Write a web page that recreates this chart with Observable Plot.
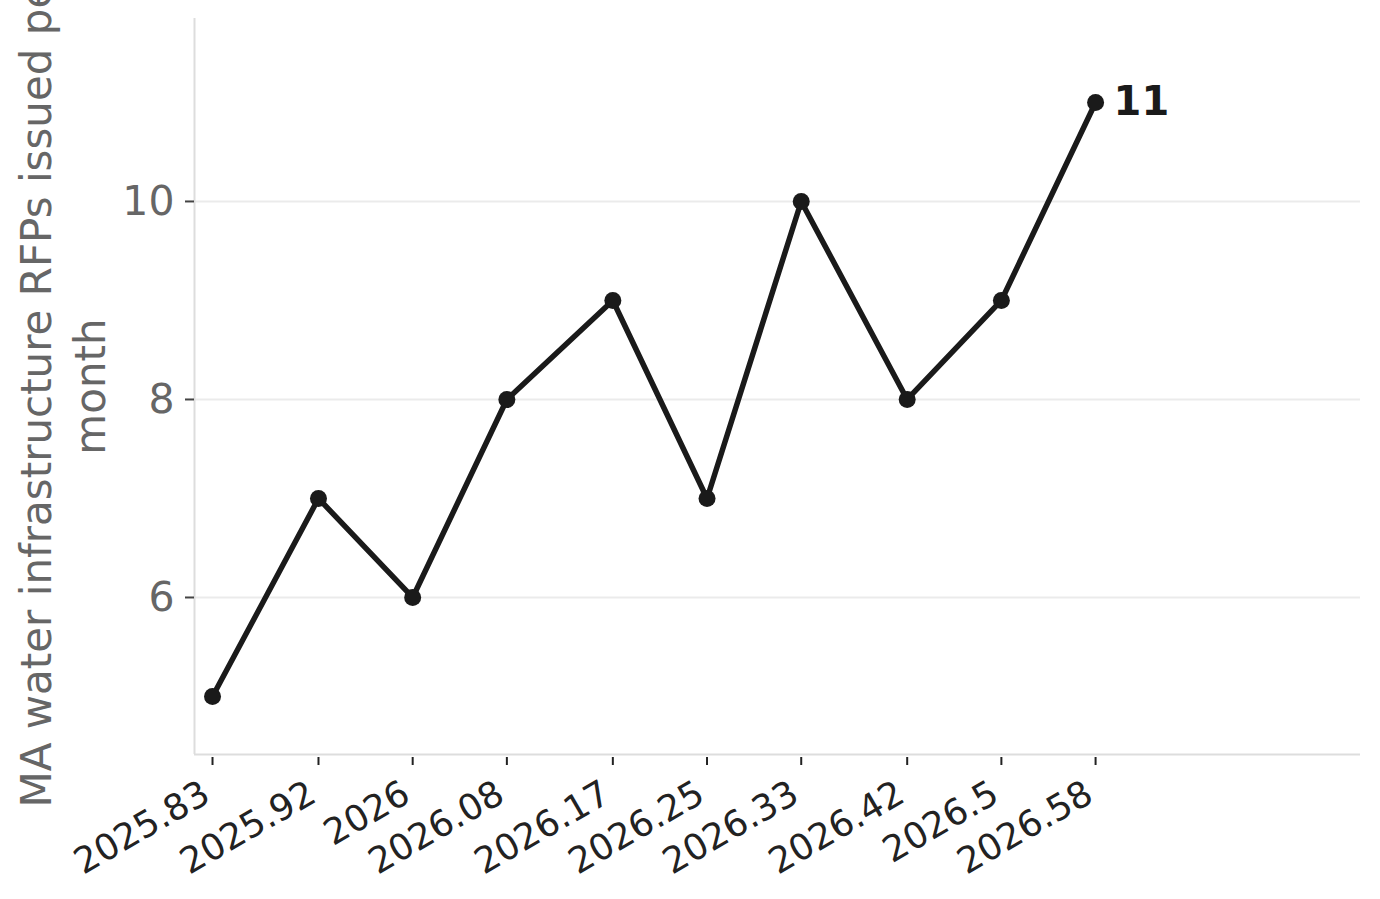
<!DOCTYPE html>
<html>
<head>
<meta charset="utf-8">
<script src="https://cdn.jsdelivr.net/npm/d3@7"></script>
<script src="https://cdn.jsdelivr.net/npm/@observablehq/plot@0.6"></script>
<style>
  html, body { margin: 0; padding: 0; background: #fff; }
  #chart svg { font-family: "DejaVu Sans", sans-serif; display: block; }
</style>
</head>
<body>
<div id="chart"></div>
<script>
const months = [2025.83, 2025.92, 2026, 2026.08, 2026.17, 2026.25, 2026.33, 2026.42, 2026.5, 2026.58];
const rfps = [5, 7, 6, 8, 9, 7, 10, 8, 9, 11];
const xTickLabels = ["2025.83", "2025.92", "2026", "2026.08", "2026.17", "2026.25", "2026.33", "2026.42", "2026.5", "2026.58"];
const yTicks = [6, 8, 10];
const yLabel = "MA water infrastructure RFPs issued per\nmonth";

const data = months.map((m, i) => ({month: m, value: rfps[i]}));
const last = data[data.length - 1];
const xDomain = [2025.8147, 2026.805];
const yDomain = [4.414, 11.848];

const chart = Plot.plot({
  width: 1380,
  height: 899,
  marginLeft: 194,
  marginRight: 20,
  marginTop: 18,
  marginBottom: 145,
  style: {fontFamily: "DejaVu Sans, sans-serif", background: "#fff"},
  x: {domain: xDomain},
  y: {domain: yDomain},
  marks: [
    Plot.gridY(yTicks, {stroke: "#ebebeb", strokeOpacity: 1, strokeWidth: 2}),
    Plot.ruleX([xDomain[0]], {stroke: "#dddddd", strokeWidth: 2}),
    Plot.ruleY([yDomain[0]], {stroke: "#dddddd", strokeWidth: 2}),
    Plot.axisY({
      ticks: yTicks,
      tickSize: 9,
      tickPadding: 11,
      fontSize: 41,
      fill: "#666666",
      stroke: "#444444",
      strokeWidth: 2,
      label: null
    }),
    // x tick marks only
    Plot.axisX({
      ticks: months,
      tickFormat: () => "",
      tickSize: 8,
      dy: 3,
      stroke: "#222222",
      strokeWidth: 2,
      label: null
    }),
    // x tick labels only
    Plot.axisX({
      ticks: months,
      tickFormat: (d) => xTickLabels[months.indexOf(d)],
      tickSize: 0,
      tickPadding: 36,
      tickRotate: -30,
      dx: -6,
      fontSize: 36,
      fill: "#222222",
      label: null
    }),
    Plot.text([yLabel], {
      frameAnchor: "left",
      rotate: -90,
      dx: -134,
      dy: 0,
      fontSize: 42,
      lineHeight: 1.3,
      fill: "#666666",
      textAnchor: "middle"
    }),
    Plot.line(data, {x: "month", y: "value", stroke: "#1a1a1a", strokeWidth: 5.5}),
    Plot.dot(data, {x: "month", y: "value", r: 8.5, fill: "#1a1a1a", stroke: "none"}),
    Plot.text([last], {
      x: "month", y: "value", text: (d) => String(d.value),
      dx: 18, textAnchor: "start", fontSize: 40, fontWeight: "bold", fill: "#1a1a1a"
    })
  ]
});
document.getElementById("chart").appendChild(chart);
</script>
</body>
</html>
